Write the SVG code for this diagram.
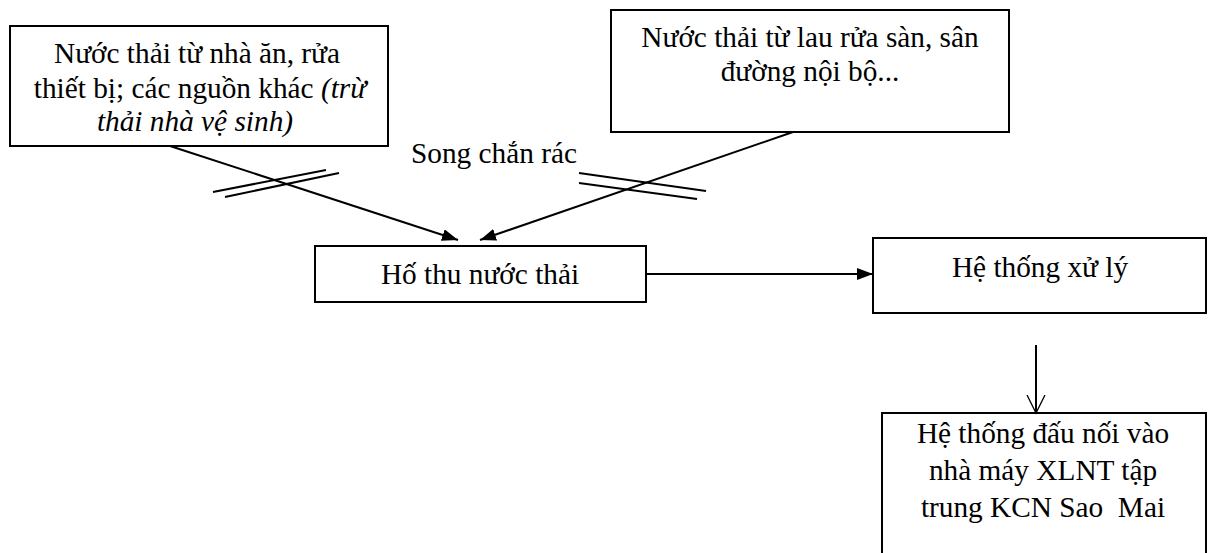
<svg xmlns="http://www.w3.org/2000/svg" width="1213" height="553" viewBox="0 0 1213 553">
<style>
.box{fill:#fff;stroke:#000;stroke-width:2}
.t{font-family:"Liberation Serif","Times New Roman",serif;font-size:29.3px;fill:#000;text-anchor:middle}
.i{font-style:italic}
.ln{stroke:#000;stroke-width:2;fill:none}
</style>
<defs>
<marker id="ah" viewBox="0 0 16 12" refX="16" refY="6" markerWidth="16" markerHeight="12" markerUnits="userSpaceOnUse" orient="auto">
<path d="M0,0 L16,6 L0,12 Z" fill="#000"/>
</marker>
<marker id="av" viewBox="0 0 20 20" refX="18" refY="10" markerWidth="20" markerHeight="20" markerUnits="userSpaceOnUse" orient="auto">
<path d="M0,1 L18,10 L0,19" fill="none" stroke="#000" stroke-width="1.3"/>
</marker>
</defs>
<rect width="1213" height="553" fill="#fff"/>
<g id="n1">
<rect class="box" x="10" y="26" width="378" height="120"/>
<text class="t" x="197" y="63">Nước thải từ nhà ăn, rửa</text>
<text class="t" x="200" y="98">thiết bị; các nguồn khác <tspan class="i">(trừ</tspan></text>
<text class="t i" x="195" y="131">thải nhà vệ sinh)</text>
</g>
<g id="n2">
<rect class="box" x="611" y="10" width="398" height="122"/>
<text class="t" x="810" y="47">Nước thải từ lau rửa sàn, sân</text>
<text class="t" x="810" y="81">đường nội bộ...</text>
</g>
<g id="lbl">
<text class="t" x="494" y="163">Song chắn rác</text>
</g>
<g id="n3">
<rect class="box" x="315" y="246" width="331" height="56"/>
<text class="t" x="480" y="284">Hố thu nước thải</text>
</g>
<g id="n4">
<rect class="box" x="873" y="238" width="333" height="75"/>
<text class="t" x="1040" y="277">Hệ thống xử lý</text>
</g>
<g id="n5">
<path class="ln" d="M882,553 V413 H1206 V553"/>
<text class="t" x="1043" y="443">Hệ thống đấu nối vào</text>
<text class="t" x="1043" y="480">nhà máy XLNT tập</text>
<text class="t" x="1043" y="517" xml:space="preserve">trung KCN Sao  Mai</text>
</g>
<g id="connectors">
<line class="ln" x1="170" y1="146" x2="458" y2="240" marker-end="url(#ah)"/>
<line class="ln" x1="793" y1="132" x2="480" y2="240" marker-end="url(#ah)"/>
<line class="ln" x1="646" y1="274" x2="873" y2="274" marker-end="url(#ah)"/>
<line class="ln" x1="1036" y1="345" x2="1036" y2="413" stroke-width="1.3" marker-end="url(#av)"/>
<line class="ln" x1="213" y1="192" x2="326" y2="170"/>
<line class="ln" x1="225" y1="197" x2="339" y2="173"/>
<line class="ln" x1="579" y1="173" x2="706" y2="191"/>
<line class="ln" x1="579" y1="183" x2="697" y2="199"/>
</g>
</svg>
